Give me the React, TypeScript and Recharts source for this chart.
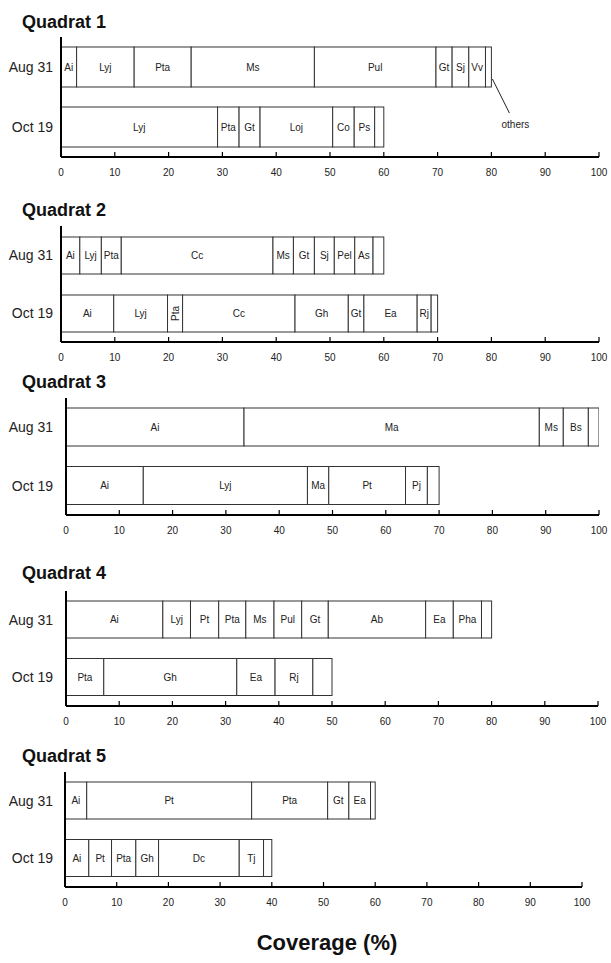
import React from "react";
import { BarChart, Bar, XAxis, YAxis } from "recharts";

const dates = ["Aug 31", "Oct 19"];
const xTicks = [0, 10, 20, 30, 40, 50, 60, 70, 80, 90, 100];

// Quadrat 1
const q1AugSpecies = ["Ai", "Lyj", "Pta", "Ms", "Pul", "Gt", "Sj", "Vv", ""];
const q1AugCover = [2.9, 10.7, 10.6, 22.9, 22.6, 3.0, 3.1, 3.1, 1.1];
const q1OctSpecies = ["Lyj", "Pta", "Gt", "Loj", "Co", "Ps", ""];
const q1OctCover = [29.1, 4.0, 3.9, 13.5, 4.0, 3.8, 1.7];

// Quadrat 2
const q2AugSpecies = ["Ai", "Lyj", "Pta", "Cc", "Ms", "Gt", "Sj", "Pel", "As", ""];
const q2AugCover = [3.5, 4.0, 3.7, 28.2, 3.8, 3.9, 3.7, 3.8, 3.4, 2.0];
const q2OctSpecies = ["Ai", "Lyj", "Pta", "Cc", "Gh", "Gt", "Ea", "Rj", ""];
const q2OctCover = [9.8, 10.0, 2.8, 20.9, 9.9, 2.9, 9.9, 2.6, 1.2];
const q2OctVertical = ["Pta"];

// Quadrat 3
const q3AugSpecies = ["Ai", "Ma", "Ms", "Bs", ""];
const q3AugCover = [33.4, 55.4, 4.5, 4.7, 2.0];
const q3OctSpecies = ["Ai", "Lyj", "Ma", "Pt", "Pj", ""];
const q3OctCover = [14.5, 30.8, 4.0, 14.4, 4.1, 2.2];

// Quadrat 4
const q4AugSpecies = ["Ai", "Lyj", "Pt", "Pta", "Ms", "Pul", "Gt", "Ab", "Ea", "Pha", ""];
const q4AugCover = [18.2, 5.2, 5.3, 5.1, 5.3, 5.2, 5.0, 18.3, 5.2, 5.3, 1.9];
const q4OctSpecies = ["Pta", "Gh", "Ea", "Rj", ""];
const q4OctCover = [7.1, 25.0, 7.2, 7.1, 3.6];

// Quadrat 5
const q5AugSpecies = ["Ai", "Pt", "Pta", "Gt", "Ea", ""];
const q5AugCover = [4.2, 31.9, 14.7, 4.1, 4.2, 0.9];
const q5OctSpecies = ["Ai", "Pt", "Pta", "Gh", "Dc", "Tj", ""];
const q5OctCover = [4.6, 4.4, 4.7, 4.4, 15.6, 4.7, 1.6];

const othersNote = "others";

type PanelDef = {
  title: string;
  species: string[][];
  covers: number[][];
  vertical?: string[][];
  note?: boolean;
  titleY: number;
  yTop: number;
  axisY: number;
  barSize: number;
  x0: number;
  x100: number;
};

const panels: PanelDef[] = [
  { title: "Quadrat 1", species: [q1AugSpecies, q1OctSpecies], covers: [q1AugCover, q1OctCover], note: true,
    titleY: 22, yTop: 37, axisY: 157, barSize: 40, x0: 61, x100: 599 },
  { title: "Quadrat 2", species: [q2AugSpecies, q2OctSpecies], covers: [q2AugCover, q2OctCover], vertical: [[], q2OctVertical],
    titleY: 210, yTop: 226, axisY: 342, barSize: 37, x0: 61, x100: 599 },
  { title: "Quadrat 3", species: [q3AugSpecies, q3OctSpecies], covers: [q3AugCover, q3OctCover],
    titleY: 382, yTop: 398, axisY: 515, barSize: 38, x0: 66, x100: 599 },
  { title: "Quadrat 4", species: [q4AugSpecies, q4OctSpecies], covers: [q4AugCover, q4OctCover],
    titleY: 573, yTop: 591, axisY: 706, barSize: 37, x0: 66, x100: 598 },
  { title: "Quadrat 5", species: [q5AugSpecies, q5OctSpecies], covers: [q5AugCover, q5OctCover],
    titleY: 756, yTop: 772, axisY: 887, barSize: 37, x0: 65, x100: 582 },
];

const FONT = '"Liberation Sans", Arial, Helvetica, sans-serif';
const TOP_M = 5;
const XAXIS_H = 30;

function buildRows(p: PanelDef) {
  return dates.map((d, r) => {
    const row: any = { date: d };
    p.covers[r].forEach((v, i) => {
      row["s" + i] = v;
    });
    return row;
  });
}

const XTick = (props: any) => {
  const { x, y, payload } = props;
  return (
    <g>
      <line x1={x} x2={x} y1={y} y2={y - 5} stroke="#000" strokeWidth={1.2} />
      <text x={x} y={y + 19} textAnchor="middle" fontSize={10} fill="#222" fontFamily={FONT}>
        {payload.value}
      </text>
    </g>
  );
};

function Panel({ p }: { p: PanelDef }) {
  const rows = buildRows(p);
  const maxLen = Math.max(...p.covers.map((c) => c.length));
  const plotH = p.axisY - p.yTop;
  const segShape = (i: number) => (props: any) => {
    const { x, y, width, height, index } = props;
    if (!(width > 0) || !(height > 0)) return <g />;
    const label = p.species[index] ? p.species[index][i] : "";
    const isVert = !!(p.vertical && p.vertical[index] && p.vertical[index].includes(label));
    const cx = x + width / 2;
    const cy = y + height / 2;
    const isNote = p.note && index === 0 && i === p.species[0].length - 1;
    return (
      <g>
        <rect x={x} y={y} width={width} height={height} fill="#fff" stroke="#333" strokeWidth={1} />
        {label ? (
          <text
            x={cx}
            y={cy + 3.5}
            textAnchor="middle"
            fontSize={10}
            fill="#222"
            fontFamily={FONT}
            transform={isVert ? `rotate(-90 ${cx} ${cy})` : undefined}
          >
            {label}
          </text>
        ) : null}
        {isNote ? (
          <g>
            <line x1={x + width + 1} y1={y + height * 0.8} x2={x + width + 18} y2={y + height + 26} stroke="#222" strokeWidth={1} />
            <text x={x + width + 24} y={y + height + 41} textAnchor="middle" fontSize={10} fill="#222" fontFamily={FONT}>
              {othersNote}
            </text>
          </g>
        ) : null}
      </g>
    );
  };
  return (
    <>
      <div
        style={{
          position: "absolute",
          left: 22,
          top: p.titleY - 10,
          fontSize: 18,
          lineHeight: "20px",
          fontWeight: "bold",
          color: "#111",
          fontFamily: FONT,
        }}
      >
        {p.title}
      </div>
      <div style={{ position: "absolute", left: 0, top: p.yTop - TOP_M }}>
        <BarChart
          width={611}
          height={TOP_M + plotH + XAXIS_H}
          layout="vertical"
          data={rows}
          barSize={p.barSize}
          margin={{ top: TOP_M, right: 611 - p.x100, bottom: 0, left: 0 }}
        >
          <XAxis
            type="number"
            domain={[0, 100]}
            ticks={xTicks}
            interval={0}
            height={XAXIS_H}
            axisLine={{ stroke: "#000", strokeWidth: 2 }}
            tickLine={false}
            tickSize={0}
            tickMargin={0}
            tick={<XTick />}
            allowDataOverflow
          />
          <YAxis
            type="category"
            dataKey="date"
            width={p.x0}
            axisLine={{ stroke: "#000", strokeWidth: 2 }}
            tickLine={false}
            tickSize={0}
            tickMargin={p.x0 - 53}
            tick={{ fontSize: 14, fill: "#222", fontFamily: FONT }}
          />
          {Array.from({ length: maxLen }, (_, i) => (
            <Bar
              key={i}
              dataKey={"s" + i}
              stackId="a"
              fill="#fff"
              stroke="#333"
              isAnimationActive={false}
              shape={segShape(i)}
            />
          ))}
        </BarChart>
      </div>
    </>
  );
}

export default function App() {
  return (
    <div
      style={{
        position: "absolute",
        left: 0,
        top: 0,
        width: 611,
        height: 963,
        background: "#fff",
        fontFamily: FONT,
        overflow: "hidden",
      }}
    >
      {panels.map((p) => (
        <Panel key={p.title} p={p} />
      ))}
      <div
        style={{
          position: "absolute",
          left: 227,
          width: 200,
          top: 931,
          textAlign: "center",
          fontSize: 22,
          lineHeight: "24px",
          fontWeight: "bold",
          color: "#111",
          fontFamily: FONT,
        }}
      >
        Coverage (%)
      </div>
    </div>
  );
}
